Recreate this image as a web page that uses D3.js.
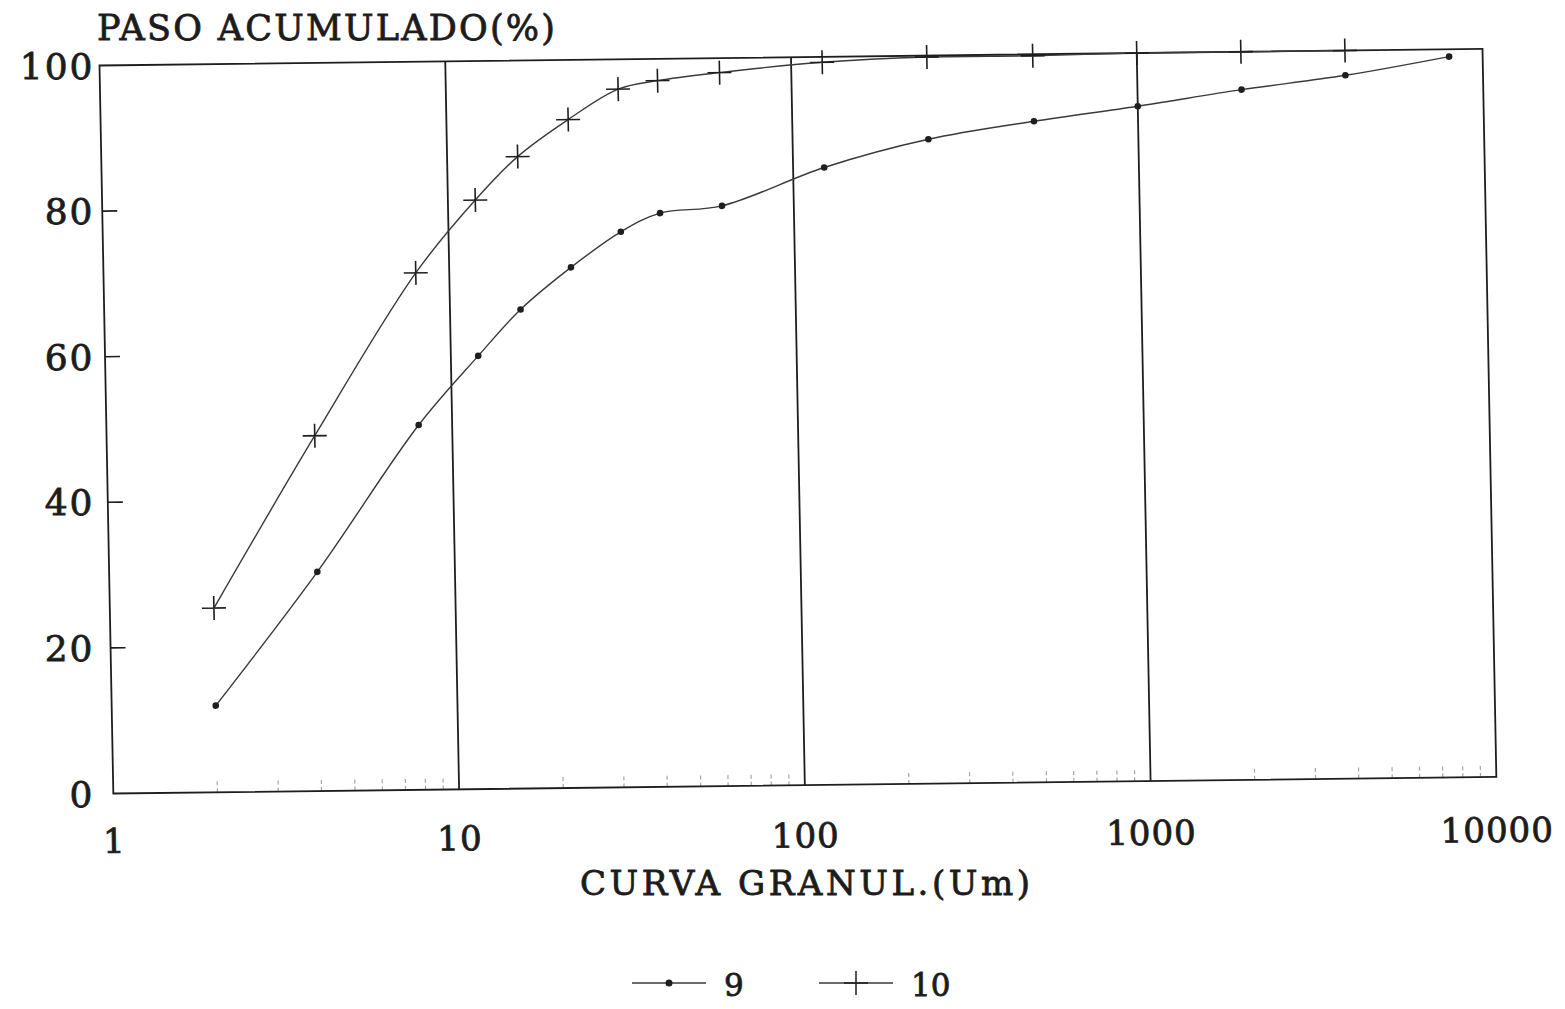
<!DOCTYPE html>
<html>
<head>
<meta charset="utf-8">
<script src="https://cdn.jsdelivr.net/npm/d3@7"></script>
<style>
    html, body { margin: 0; background: #fff; }
    svg { display: block; }
    text { font-family: "DejaVu Serif", serif; fill: #1c1c1c; stroke: #1c1c1c; stroke-width: 0.8px; }
</style>
</head>
<body>
<svg id="chart" width="1565" height="1009"></svg>
<script>
    'use strict';

    // sample 9 (dots) and sample 10 (crosses): grain size (um) vs cumulative passing (%)
    const sizes_9 = [2, 4, 8, 12, 16, 22.5, 31.5, 41, 62, 123, 247, 500, 1000, 2000, 4000, 8000];
    const passing_9 = [11.9, 30.1, 50.1, 59.5, 65.8, 71.5, 76.3, 78.8, 79.7, 84.8, 88.5, 90.8, 92.7, 94.8, 96.6, 99.0];
    const sizes_10 = [2, 4, 8, 12, 16, 22.5, 31.5, 41, 62, 123, 247, 500, 1000, 2000, 4000];
    const passing_10 = [25.3, 48.8, 71.0, 80.9, 86.8, 91.8, 95.9, 97.0, 98.0, 99.25, 99.8, 99.8, 100, 100, 100];

    const x_ticks = [1, 10, 100, 1000, 10000];
    const y_ticks = [0, 20, 40, 60, 80, 100];
    const legend_labels = ['9', '10'];

    const W = 1383, H = 728;
    const INK = '#1e1e1e';

    const svg = d3.select('#chart');
    svg.append('rect').attr('width', 1565).attr('height', 1009).attr('fill', '#fff');

    const x = d3.scaleLog().domain([1, 10000]).range([0, W]);
    const y = d3.scaleLinear().domain([0, 100]).range([H, 0]);

    // the scanned sheet is slightly skewed, so the plot frame is too
    const plot = svg.append('g').attr('transform', 'matrix(1,-0.012,0.019,1,99.5,65.5)');

    // faint minor log ticks standing on the x axis
    plot.append('g').selectAll('line')
        .data(x.ticks().filter(v => !x_ticks.includes(v)))
        .enter().append('line')
        .attr('x1', d => x(d)).attr('x2', d => x(d))
        .attr('y1', H).attr('y2', H - 13)
        .attr('stroke', '#a5a5a5').attr('stroke-width', 1.2)
        .attr('stroke-dasharray', '4,3');

    // decade grid lines
    plot.append('g').selectAll('line')
        .data(x_ticks.slice(1, -1))
        .enter().append('line')
        .attr('x1', d => x(d)).attr('x2', d => x(d))
        .attr('y1', 0).attr('y2', H)
        .attr('stroke', INK).attr('stroke-width', 1.8);

    // frame
    plot.append('rect')
        .attr('width', W).attr('height', H)
        .attr('fill', 'none').attr('stroke', INK).attr('stroke-width', 1.8);

    // inward y ticks
    plot.append('g').selectAll('line')
        .data(y_ticks.slice(1, -1))
        .enter().append('line')
        .attr('x1', 0).attr('x2', 15)
        .attr('y1', d => y(d)).attr('y2', d => y(d))
        .attr('stroke', INK).attr('stroke-width', 1.6);

    const line = d3.line()
        .x(d => x(d[0]))
        .y(d => y(d[1]))
        .curve(d3.curveCatmullRom.alpha(0.5));

    const s9 = d3.zip(sizes_9, passing_9);
    const s10 = d3.zip(sizes_10, passing_10);

    [s9, s10].forEach(s => {
        plot.append('path')
            .datum(s)
            .attr('d', line)
            .attr('fill', 'none')
            .attr('stroke', '#3a3a3a')
            .attr('stroke-width', 1.4);
    });

    plot.append('g').selectAll('circle')
        .data(s9).enter().append('circle')
        .attr('cx', d => x(d[0])).attr('cy', d => y(d[1]))
        .attr('r', 3.3).attr('fill', INK);

    const plus = 'M-12,0H12M0,-12V12';
    plot.append('g').selectAll('path')
        .data(s10).enter().append('path')
        .attr('d', plus)
        .attr('transform', d => `translate(${x(d[0])},${y(d[1])})`)
        .attr('fill', 'none').attr('stroke', INK).attr('stroke-width', 1.6);

    // y tick labels (left column, not skewed)
    svg.append('g').attr('transform', 'translate(99.5,65.5)')
        .selectAll('text')
        .data(y_ticks).enter().append('text')
        .attr('x', -5).attr('y', d => y(d) + 13)
        .attr('text-anchor', 'end')
        .attr('font-size', 36)
        .attr('letter-spacing', 2)
        .text(d => d);

    // x tick labels
    svg.append('g').attr('transform', 'matrix(1,-0.008,0.019,1,99.5,65.5)')
        .selectAll('text')
        .data(x_ticks).enter().append('text')
        .attr('x', d => x(d)).attr('y', H + 59.5)
        .attr('text-anchor', 'middle')
        .attr('font-size', 34)
        .attr('letter-spacing', 1)
        .text(d => d);

    // titles
    svg.append('text')
        .attr('x', 97).attr('y', 40)
        .attr('font-size', 35)
        .attr('textLength', 458).attr('lengthAdjust', 'spacing')
        .text('PASO ACUMULADO(%)');

    svg.append('text')
        .attr('x', 580).attr('y', 895)
        .attr('font-size', 34)
        .attr('textLength', 450).attr('lengthAdjust', 'spacing')
        .text('CURVA GRANUL.(Um)');

    // legend
    const legend = svg.append('g');
    const leg_x = [632, 819];
    legend_labels.forEach((lbl, i) => {
        const g = legend.append('g').attr('transform', `translate(${leg_x[i]},983)`);
        g.append('line').attr('x1', 0).attr('x2', 74)
            .attr('stroke', '#3a3a3a').attr('stroke-width', 1.4);
        if (i === 0) {
            g.append('circle').attr('cx', 37).attr('r', 3.5).attr('fill', INK);
        } else {
            g.append('path').attr('d', plus).attr('transform', 'translate(37,0)')
                .attr('fill', 'none').attr('stroke', INK).attr('stroke-width', 1.5);
        }
        g.append('text').attr('x', 92).attr('y', 13)
            .attr('font-size', 31)
            .text(lbl);
    });
</script>
</body>
</html>
